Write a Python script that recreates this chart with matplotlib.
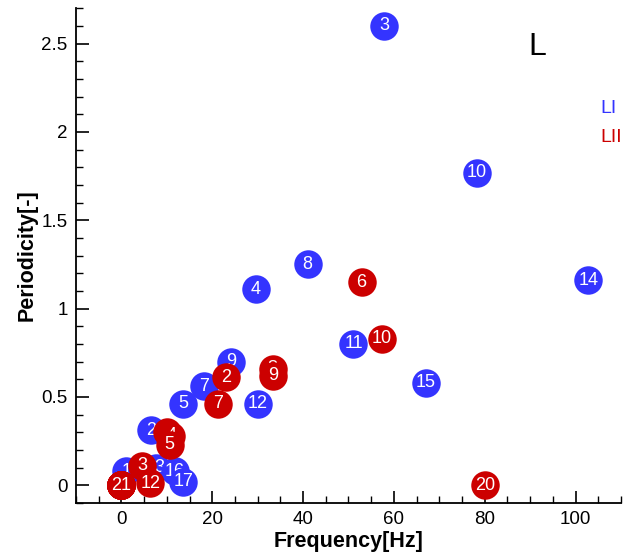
import matplotlib
matplotlib.use("Agg")
import matplotlib.pyplot as plt
from matplotlib.ticker import MultipleLocator

plt.rcParams['font.family'] = ['Liberation Sans', 'DejaVu Sans']

# Serie LI (azul)
li_id = [6, 1, 2, 3, 4, 5, 7, 8, 9, 10, 11, 12, 13, 14, 15, 16, 17]
li_freq = [0.0, 1.1, 6.6, 57.8, 29.6, 13.6, 18.3, 41.0, 24.2, 78.3, 51.1, 30.1, 7.6, 102.8, 67.0, 11.7, 13.6]
li_per = [0.0, 0.08, 0.31, 2.60, 1.11, 0.46, 0.56, 1.25, 0.70, 1.77, 0.80, 0.46, 0.10, 1.16, 0.58, 0.08, 0.02]

# Serie LII (rojo)
lii_id = [11, 13, 14, 15, 16, 17, 18, 19, 21, 1, 2, 3, 4, 5, 6, 7, 8, 9, 10, 12, 20]
lii_freq = [0, 0, 0, 0, 0, 0, 0, 0, 0, 10.0, 23.1, 4.6, 11.0, 10.6, 52.9, 21.3, 33.3, 33.4, 57.3, 6.4, 80.0]
lii_per = [0, 0, 0, 0, 0, 0, 0, 0, 0, 0.30, 0.61, 0.11, 0.28, 0.23, 1.15, 0.46, 0.66, 0.62, 0.83, 0.01, 0.0]

azul = '#3434FF'
rojo = '#CC0000'

fig = plt.figure(figsize=(6.33, 5.55), dpi=100)
ax = fig.add_axes([0.12, 0.094, 0.861, 0.891])

z = 3
for ids, xs, ys, col in [(li_id, li_freq, li_per, azul), (lii_id, lii_freq, lii_per, rojo)]:
    for n, x, y in zip(ids, xs, ys):
        ax.plot(x, y, 'o', color=col, markersize=20.5, markeredgewidth=0, zorder=z)
        ax.text(x, y, str(n), color='white', fontsize=13, ha='center', va='center', zorder=z + 1)
        z += 2

ax.set_xlim(-10, 110)
ax.set_ylim(-0.1, 2.7)
ax.xaxis.set_major_locator(MultipleLocator(20))
ax.xaxis.set_minor_locator(MultipleLocator(5))
ax.yaxis.set_minor_locator(MultipleLocator(0.1))
ax.set_yticks([0, 0.5, 1, 1.5, 2, 2.5])
ax.set_yticklabels(['0', '0.5', '1', '1.5', '2', '2.5'])
ax.tick_params(which='major', direction='in', length=9, width=1.2, labelsize=13.5, pad=6)
ax.tick_params(which='minor', direction='in', length=5, width=1)
for s in ['top', 'right']:
    ax.spines[s].set_visible(False)
for s in ['left', 'bottom']:
    ax.spines[s].set_linewidth(1.3)

ax.set_xlabel('Frequency[Hz]', fontsize=15.5, fontweight='bold', labelpad=2)
ax.set_ylabel('Periodicity[-]', fontsize=15.5, fontweight='bold', labelpad=3)

ax.text(91.5, 2.48, 'L', fontsize=23, ha='center', va='center', color='black')
ax.text(105.5, 2.13, 'LI', fontsize=14, ha='left', va='center', color=azul)
ax.text(105.5, 1.97, 'LII', fontsize=14, ha='left', va='center', color=rojo)

fig.savefig('out.png', dpi=100)
